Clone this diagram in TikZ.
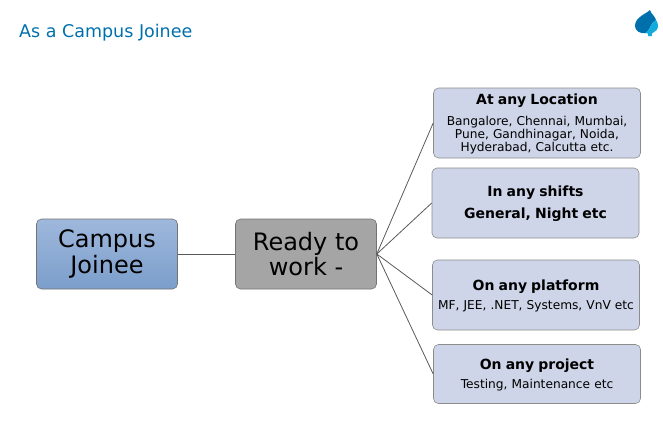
\documentclass[tikz,border=0pt]{standalone}
\usepackage{fontspec}
\setmainfont{DejaVu Sans}
\definecolor{capblue}{HTML}{0070AD}
\definecolor{capsky}{HTML}{12ABDB}
\definecolor{boxlilac}{HTML}{CFD5E8}
\definecolor{boxgrey}{HTML}{A5A5A5}
\definecolor{rootTop}{HTML}{9FB8DC}
\definecolor{rootBottom}{HTML}{7B9ECB}
\tikzset{
  node-big/.style={draw=black!55,line width=0.6pt,rounded corners=5pt,minimum width=141pt,minimum height=70pt,inner sep=0pt,align=center,text=black,font=\fontsize{24}{25.5}\selectfont},
  node-root/.style={node-big,top color=rootTop,bottom color=rootBottom},
  node-work/.style={node-big,fill=boxgrey},
  node-side/.style={draw=black!45,line width=0.6pt,rounded corners=5pt,fill=boxlilac,minimum width=207pt,minimum height=70pt,inner sep=0pt,text width=204pt,align=center,text=black,font=\fontsize{12.2}{13}\selectfont},
  link/.style={draw=black!65,line width=0.8pt},
}
\newcommand{\headline}[1]{{\fontsize{14}{13}\selectfont\bfseries\rule{0pt}{12.5pt}#1}}
\begin{document}
\begin{tikzpicture}[x=1pt,y=-1pt]
  \useasboundingbox (0,0) rectangle (663,442);

  % title and logo
  \node[anchor=base west,inner sep=0pt,text=capblue,font=\fontsize{17.5}{18}\selectfont] (title) at (19,37) {As a Campus Joinee};
  \fill[capblue] (650,10) .. controls (646,14) and (635,17) .. (635,26) .. controls (635,31) and (640,34) .. (646,33) .. controls (650,30) and (651,22) .. (656,20) .. controls (655,16) and (651,14) .. (650,10) -- cycle;
  \fill[capsky] (656,20) .. controls (651,22) and (650,30) .. (646,33) .. controls (648,33) and (649,34) .. (648,36) -- (652,36) .. controls (651,34) and (652,33) .. (654,32) .. controls (659,30) and (659,24) .. (656,20) -- cycle;

  % left part
  \node[node-root] (campus) at (107,254) {Campus\\Joinee};
  \node[node-work] (ready)  at (306,254) {Ready to\\work -};

  % right part
  \node[node-side] (location) at (537,123) {\headline{At any Location}\\[8pt]Bangalore, Chennai, Mumbai,\\Pune, Gandhinagar, Noida,\\Hyderabad, Calcutta etc.};
  \node[node-side] (shifts)   at (535.5,203) {\headline{In any shifts}\\[5pt]\headline{General, Night etc}};
  \node[node-side] (platform) at (536,295) {\headline{On any platform}\\[6pt]MF, JEE, .NET, Systems, VnV etc};
  \node[node-side,minimum height=59pt] (project)  at (537,374) {\headline{On any project}\\[6pt]Testing, Maintenance etc};

  \draw[link] (campus) -- (ready);
  \draw[link] (ready.east) -- (location.west);
  \draw[link] (ready.east) -- (shifts.west);
  \draw[link] (ready.east) -- (platform.west);
  \draw[link] (ready.east) -- (project.west);

\end{tikzpicture}
\end{document}
